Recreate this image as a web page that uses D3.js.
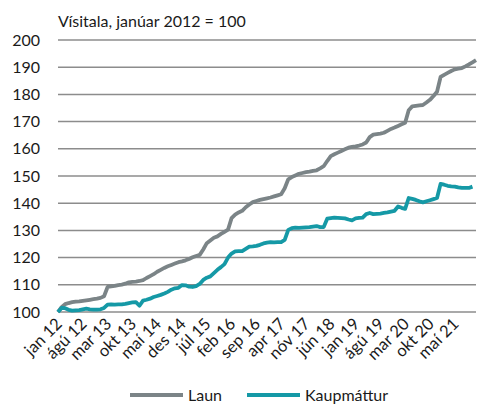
<!DOCTYPE html>
<html>
<head>
<meta charset="utf-8">
<title>Laun og kaupmáttur</title>
<script src="https://d3js.org/d3.v7.min.js"></script>
<style>
  body { margin: 0; background: #fff; }
  svg { font-family: Lato, "Open Sans", sans-serif; }
</style>
</head>
<body>
<svg width="481" height="405"></svg>
<script>
    // month names, categories start jan 2012
    const monthNames = ["jan","feb","mar","apr","maí","jún","júl","ágú","sep","okt","nóv","des"];
    const startYear = 2012;
    const tickEvery = 7;
    const yTicks = [100,110,120,130,140,150,160,170,180,190,200];

    // Laun (wage index), monthly
    const laun = [
        100.0,101.8,102.9,103.3,103.6,103.8,103.9,104.1,104.3,104.5,104.7,104.9,
        105.2,105.8,109.2,109.4,109.6,109.9,110.1,110.4,110.9,111.1,111.2,111.4,
        111.7,112.5,113.2,113.9,114.8,115.5,116.2,116.8,117.3,117.8,118.3,118.6,
        119.0,119.5,120.1,120.6,121.0,123.0,125.3,126.3,127.3,127.8,128.7,129.5,
        130.3,134.5,135.8,136.6,137.2,138.5,139.5,140.4,140.8,141.2,141.5,141.8,
        142.1,142.5,142.9,143.3,145.5,148.8,149.6,150.2,150.8,151.1,151.4,151.6,
        151.9,152.1,152.8,153.6,155.5,157.3,158.0,158.6,159.2,159.8,160.4,160.7,
        160.9,161.2,161.6,162.3,164.3,165.2,165.4,165.6,165.9,166.6,167.3,167.8,
        168.4,169.0,169.6,174.2,175.6,175.8,176.0,176.1,177.0,178.0,179.4,181.0,
        186.4,187.2,187.9,188.6,189.2,189.5,189.7,190.3,191.0,191.8,192.6
    ];

    // Kaupmáttur (purchasing power), monthly
    const kaupmattur = [
        100.0,101.5,101.4,100.8,100.5,100.6,100.7,101.0,101.2,101.0,100.9,100.9,
        101.0,101.5,102.7,102.8,102.7,102.8,102.8,103.0,103.3,103.5,103.6,102.3,
        104.2,104.5,104.9,105.5,105.9,106.3,106.8,107.4,108.2,108.7,108.9,109.9,
        109.8,109.3,109.2,109.5,110.3,111.8,112.6,113.1,114.3,115.5,116.5,117.6,
        120.0,121.5,122.3,122.4,122.4,123.2,124.0,124.1,124.3,124.7,125.2,125.5,
        125.7,125.6,125.7,125.7,126.5,130.2,130.8,131.0,130.9,131.0,131.1,131.2,
        131.4,131.6,131.2,131.2,134.3,134.5,134.7,134.6,134.5,134.4,134.0,133.7,
        134.4,134.6,134.7,136.0,136.4,136.0,136.1,136.2,136.4,136.6,136.9,137.2,
        138.8,138.3,137.9,141.9,141.6,141.2,140.7,140.3,140.7,141.1,141.5,141.9,
        147.1,146.8,146.4,146.2,146.1,145.8,145.6,145.6,145.6,146.1
    ];

    const launColor = "#7b8487";
    const kaupColor = "#1599a6";

    const svg = d3.select("svg");

    const nMonths = laun.length;
    const label = i => monthNames[i % 12] + " " + String(startYear + Math.floor(i / 12)).slice(2);

    const x = d3.scaleLinear()
        .domain([0, nMonths - 1])
        .range([58, 476]);
    const y = d3.scaleLinear()
        .domain([100, 200])
        .range([312, 40]);

    // gridlines
    svg.append("g")
        .selectAll("line").data(yTicks).enter().append("line")
            .attr("x1", x(0))
            .attr("x2", x(nMonths - 1))
            .attr("y1", d => y(d))
            .attr("y2", d => y(d))
            .attr("stroke", "#8c8c8c")
            .attr("stroke-width", 1.5);

    // y labels
    svg.append("g")
        .selectAll("text").data(yTicks).enter().append("text")
            .attr("x", 40)
            .attr("y", d => y(d))
            .attr("dy", "0.35em")
            .attr("text-anchor", "end")
            .attr("font-size", 16)
            .attr("fill", "#1a1a1a")
            .text(d => d);

    // x labels
    const tickIdx = d3.range(0, nMonths, tickEvery);
    svg.append("g")
        .selectAll("text").data(tickIdx).enter().append("text")
            .attr("transform", d => "translate(" + (x(d) + 5) + ",325) rotate(-45)")
            .attr("text-anchor", "end")
            .attr("font-size", 16.5)
            .attr("fill", "#1a1a1a")
            .text(d => label(d));

    // title
    svg.append("text")
        .attr("x", 58)
        .attr("y", 27)
        .attr("font-size", 16)
        .attr("fill", "#1a1a1a")
        .text("Vísitala, janúar 2012 = 100");

    const line = d3.line()
        .x((d, i) => x(i))
        .y(d => y(d));

    svg.append("path")
        .datum(laun)
        .attr("d", line)
        .attr("fill", "none")
        .attr("stroke", launColor)
        .attr("stroke-width", 3.8)
        .attr("stroke-linejoin", "round");

    svg.append("path")
        .datum(kaupmattur)
        .attr("d", line)
        .attr("fill", "none")
        .attr("stroke", kaupColor)
        .attr("stroke-width", 3.8)
        .attr("stroke-linejoin", "round");

    // legend
    const legend = [
        {name: "Laun", color: launColor, x: 130},
        {name: "Kaupmáttur", color: kaupColor, x: 247}
    ];
    const lg = svg.append("g").selectAll("g").data(legend).enter().append("g")
        .attr("transform", d => "translate(" + d.x + ",395)");
    lg.append("line")
        .attr("x1", 0).attr("x2", 53)
        .attr("stroke", d => d.color)
        .attr("stroke-width", 4);
    lg.append("text")
        .attr("x", 58)
        .attr("y", 5.5)
        .attr("font-size", 16)
        .attr("fill", "#1a1a1a")
        .text(d => d.name);
</script>
</body>
</html>
